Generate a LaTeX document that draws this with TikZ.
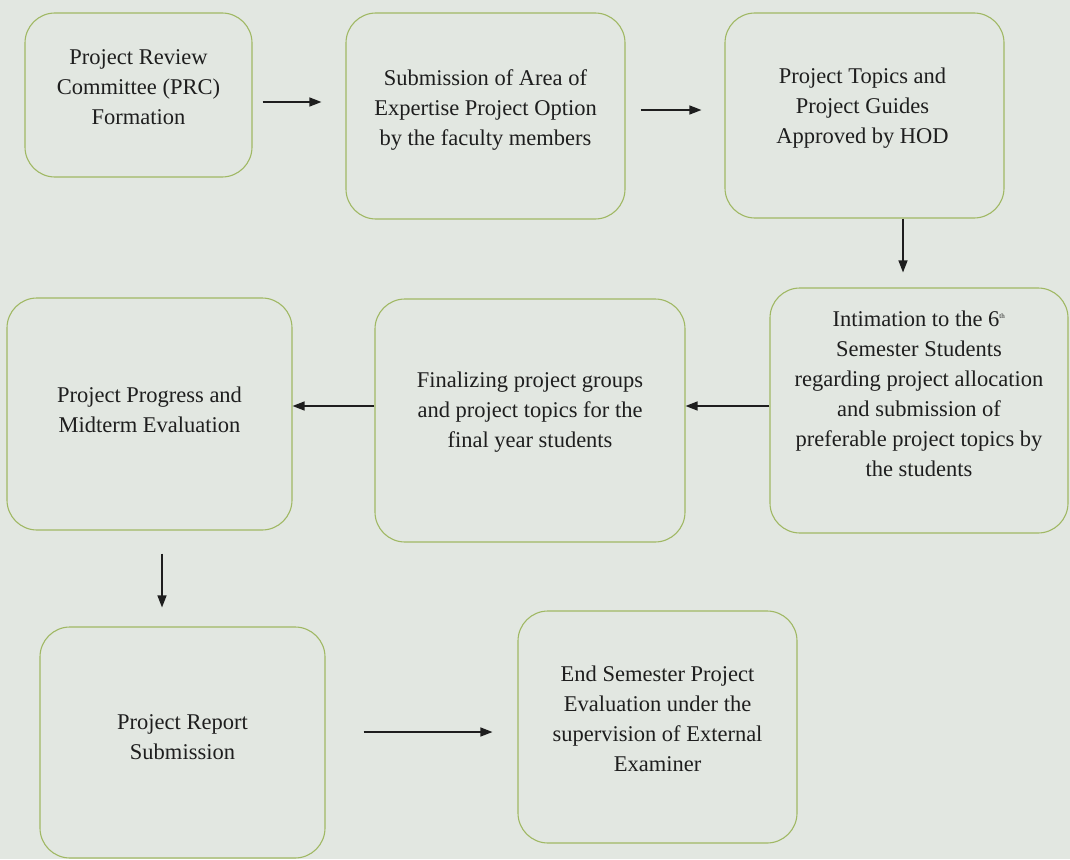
\documentclass[tikz,border=0pt]{standalone}
\usepackage{fontspec}
\setmainfont{Liberation Serif}
\usetikzlibrary{arrows.meta}
\definecolor{bg}{RGB}{226,231,225}
\definecolor{boxline}{RGB}{160,184,100}
\definecolor{ink}{RGB}{30,30,30}
\tikzset{
  box/.style={draw=boxline, line width=1.1pt, rounded corners=30pt, rectangle, inner sep=0pt},
  txt/.style={text=ink, align=center, font=\fontsize{22.5}{30}\selectfont},
  arr/.style={draw=ink, line width=1.3pt, -{Triangle[length=12pt,width=9pt]}}
}
\begin{document}
\begin{tikzpicture}[x=1pt,y=-1pt]
\useasboundingbox (0,0) rectangle (1070,859);
\fill[bg] (0,0) rectangle (1070,859);

\node[box, minimum width=227pt, minimum height=164pt,
  label={[txt,yshift=8pt]center:Project Review\\Committee (PRC)\\Formation}] (b1) at (138.5,95) {};
\node[box, minimum width=279pt, minimum height=206pt,
  label={[txt,yshift=6pt]center:Submission of Area of\\Expertise Project Option\\by the faculty members}] (b2) at (485.5,116) {};
\node[box, minimum width=279pt, minimum height=205pt,
  label={[txt,yshift=7.5pt,xshift=-2pt]center:Project Topics and\\Project Guides\\Approved by HOD}] (b3) at (864.5,115.5) {};
\node[box, minimum width=298pt, minimum height=245pt,
  label={[txt,yshift=17pt]center:Intimation to the 6\textsuperscript{\scriptsize th}\\Semester Students\\regarding project allocation\\and submission of\\preferable project topics by\\the students}] (b4) at (919,410.5) {};
\node[box, minimum width=310pt, minimum height=243pt,
  label={[txt,yshift=8pt]center:Finalizing project groups\\and project topics for the\\final year students}] (b5) at (530,420.5) {};
\node[box, minimum width=285pt, minimum height=232pt,
  label={[txt,yshift=4pt]center:Project Progress and\\Midterm Evaluation}] (b6) at (149.5,414) {};
\node[box, minimum width=285pt, minimum height=231pt,
  label={[txt,yshift=5pt]center:Project Report\\Submission}] (b7) at (182.5,742.5) {};
\node[box, minimum width=279pt, minimum height=232pt,
  label={[txt,yshift=8pt]center:End Semester Project\\Evaluation under the\\supervision of External\\Examiner}] (b8) at (657.5,727) {};

\draw[arr, shorten <=10pt, shorten >=24pt] (b1.east |- 0,102) -- (b2.west |- 0,102);
\draw[arr, shorten <=15pt, shorten >=23pt] (b2.east |- 0,110) -- (b3.west |- 0,110);
\draw[arr, shorten >=15pt] (b3.south -| 903,0) -- (b4.north -| 903,0);
\draw[arr] (b4.west |- 0,406) -- (b5.east |- 0,406);
\draw[arr] (b5.west |- 0,406) -- (b6.east |- 0,406);
\draw[arr, shorten <=23pt, shorten >=19pt] (b6.south -| 162,0) -- (b7.north -| 162,0);
\draw[arr, shorten <=38pt, shorten >=25pt] (b7.east |- 0,732) -- (b8.west |- 0,732);
\end{tikzpicture}
\end{document}
